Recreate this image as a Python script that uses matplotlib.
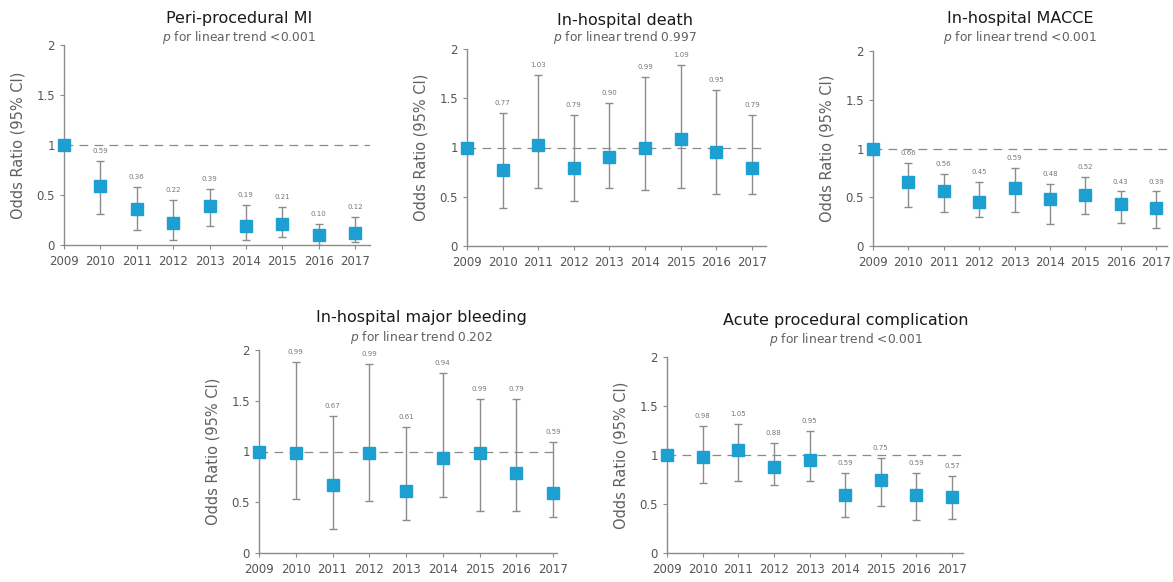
import numpy as np
import matplotlib
matplotlib.use("Agg")
import matplotlib.pyplot as plt

plt.rcParams['font.family'] = ['DejaVu Sans']

years = [2009, 2010, 2011, 2012, 2013, 2014, 2015, 2016, 2017]

titles = ["Peri-procedural MI", "In-hospital death", "In-hospital MACCE",
          "In-hospital major bleeding", "Acute procedural complication"]
p_texts = ["<0.001", "0.997", "<0.001", "0.202", "<0.001"]

# odds ratios (2009 is the reference year)
mi_or = [1.00, 0.59, 0.36, 0.22, 0.39, 0.19, 0.21, 0.10, 0.12]
mi_lo = [1.00, 0.31, 0.15, 0.05, 0.19, 0.05, 0.08, 0.00, 0.03]
mi_hi = [1.00, 0.84, 0.58, 0.45, 0.56, 0.40, 0.38, 0.21, 0.28]

death_or = [1.00, 0.77, 1.03, 0.79, 0.90, 0.99, 1.09, 0.95, 0.79]
death_lo = [1.00, 0.39, 0.59, 0.46, 0.59, 0.57, 0.59, 0.53, 0.53]
death_hi = [1.00, 1.35, 1.74, 1.33, 1.45, 1.72, 1.84, 1.58, 1.33]

macce_or = [1.00, 0.66, 0.56, 0.45, 0.59, 0.48, 0.52, 0.43, 0.39]
macce_lo = [1.00, 0.40, 0.35, 0.30, 0.35, 0.23, 0.33, 0.24, 0.18]
macce_hi = [1.00, 0.85, 0.74, 0.66, 0.80, 0.64, 0.71, 0.56, 0.56]

bleed_or = [1.00, 0.99, 0.67, 0.99, 0.61, 0.94, 0.99, 0.79, 0.59]
bleed_lo = [1.00, 0.53, 0.24, 0.51, 0.33, 0.55, 0.41, 0.41, 0.35]
bleed_hi = [1.00, 1.88, 1.35, 1.86, 1.24, 1.77, 1.52, 1.52, 1.09]

comp_or = [1.00, 0.98, 1.05, 0.88, 0.95, 0.59, 0.75, 0.59, 0.57]
comp_lo = [1.00, 0.71, 0.73, 0.69, 0.73, 0.37, 0.48, 0.34, 0.35]
comp_hi = [1.00, 1.30, 1.32, 1.12, 1.25, 0.82, 0.97, 0.82, 0.79]

series = [(mi_or, mi_lo, mi_hi), (death_or, death_lo, death_hi),
          (macce_or, macce_lo, macce_hi), (bleed_or, bleed_lo, bleed_hi),
          (comp_or, comp_lo, comp_hi)]

W, H = 1173, 582

# plot areas in pixels: x of 2009 tick, x of 2017 tick, y of top (2), y of bottom (0)
areas = [(64, 355, 45, 245),
         (467, 752, 49, 246),
         (873, 1156, 51, 246),
         (259, 553, 350, 553),
         (667, 952, 357, 553)]
# how far each x axis runs past 2017
xmax = [2017.4, 2017.4, 2017.3, 2017.1, 2017.3]
# title centre x, title y, p-text y (pixels from top)
heads = [(239, 18, 38),
         (625, 20, 38),
         (1020, 18, 37),
         (421, 318, 338),
         (846, 320, 340)]

BLUE = "#1d9fd2"
GREY = "#8c8c8c"
TEXT = "#555555"

fig = plt.figure(figsize=(W / 100, H / 100), dpi=100)

for area, xm, head, title, ptxt, (orv, lo, hi) in zip(areas, xmax, heads, titles,
                                                       p_texts, series):
    x0, x1, ytop, ybot = area
    span = (x1 - x0) * (xm - 2009) / 8.0
    box = [x0 / W, 1 - ybot / H, span / W, (ybot - ytop) / H]
    ax = fig.add_axes(box)
    x = np.array(years)
    orv = np.array(orv)
    lo = np.array(lo)
    hi = np.array(hi)
    ax.axhline(1, color="#8a8a8a", lw=0.9, ls=(0, (7, 5)), zorder=1)
    ax.errorbar(x[1:], orv[1:], yerr=[orv[1:] - lo[1:], hi[1:] - orv[1:]],
                fmt="none", ecolor=GREY, elinewidth=1.0, capsize=3,
                capthick=1.0, zorder=2)
    ax.plot(x, orv, ls="none", marker="s", ms=9, color=BLUE,
            mec=BLUE, zorder=3, clip_on=False)
    for xi, yi, hv in zip(x[1:], orv[1:], hi[1:]):
        ax.text(xi, hv + 0.07, "%.2f" % yi, ha="center", va="bottom",
                fontsize=5, color="#777777")
    ax.set_xlim(2009, xm)
    ax.set_ylim(0, 2)
    ax.set_xticks(years)
    ax.set_xticklabels([str(y) for y in years])
    ax.set_yticks([0, 0.5, 1, 1.5, 2])
    ax.set_yticklabels(["0", "0.5", "1", "1.5", "2"])
    for s in ["top", "right"]:
        ax.spines[s].set_visible(False)
    for s in ["left", "bottom"]:
        ax.spines[s].set_color(GREY)
        ax.spines[s].set_linewidth(1.0)
    ax.tick_params(axis="both", colors=GREY, labelcolor=TEXT,
                   labelsize=8.5, length=3, width=0.8)
    ax.tick_params(axis="x", pad=4)
    ax.set_ylabel("Odds Ratio (95% CI)", fontsize=10.5, color="#606060",
                  labelpad=8)
    cx, ty, py = head
    fig.text(cx / W, 1 - ty / H, title, ha="center", va="center",
             fontsize=11.5, color="#1a1a1a")
    fig.text(cx / W, 1 - py / H, r"$\it{p}$" + " for linear trend " + ptxt,
             ha="center", va="center", fontsize=8.8, color="#606060")

fig.savefig("out.png", dpi=100)
